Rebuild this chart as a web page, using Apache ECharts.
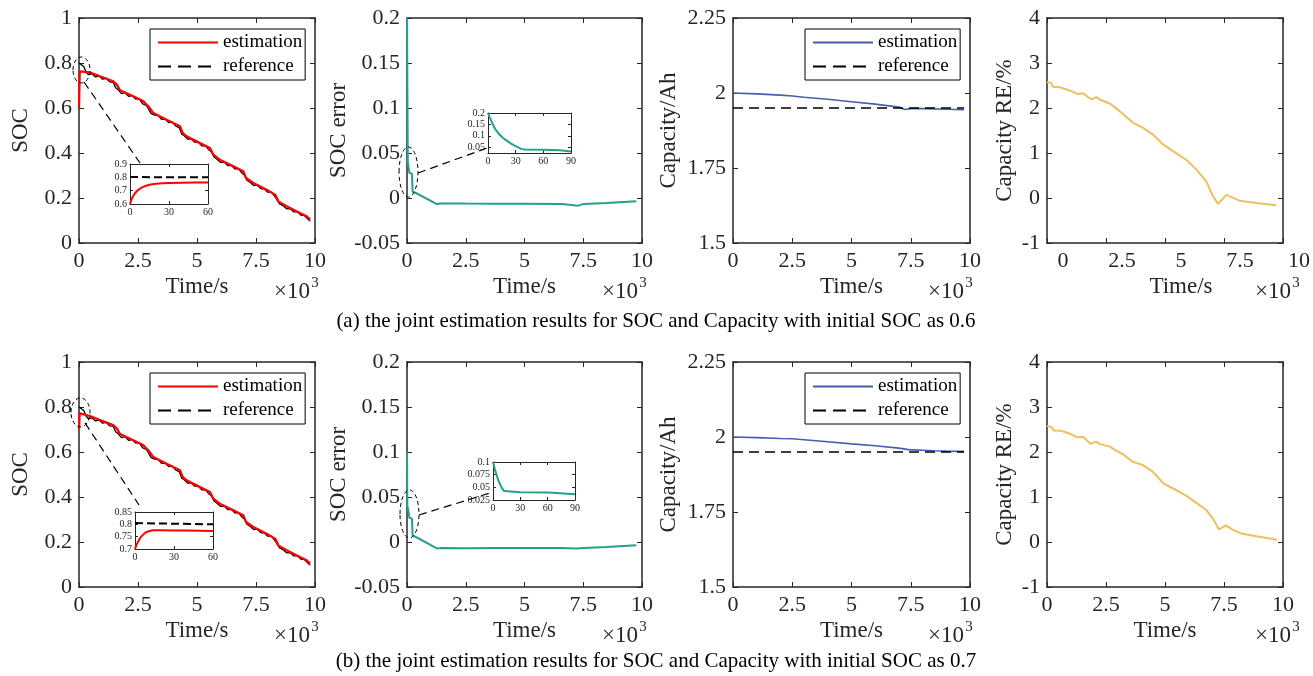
<!DOCTYPE html>
<html><head><meta charset="utf-8">
<script src="https://cdn.jsdelivr.net/npm/echarts@6/dist/echarts.min.js"></script>
<style>html,body{margin:0;padding:0;background:#fff}#c{width:1313px;height:676px}</style>
</head><body><div id="c"></div>
<script>
// ---------------- data (time in 10^3 s) ----------------
const socTime = [0, 0.03, 0.47, 0.89, 1.45, 1.60, 1.74, 2.30, 2.73, 2.94, 3.15, 3.71, 4.28, 4.39, 4.56, 5.13, 5.55, 5.69, 5.97, 6.54, 6.96, 7.08, 7.39, 7.95, 8.31, 8.45, 8.80, 9.36, 9.65, 9.79];
const socEstA = [0.60, 0.763, 0.758, 0.741, 0.719, 0.704, 0.679, 0.652, 0.630, 0.607, 0.578, 0.548, 0.519, 0.489, 0.474, 0.444, 0.422, 0.393, 0.370, 0.341, 0.319, 0.289, 0.267, 0.237, 0.215, 0.185, 0.163, 0.133, 0.119, 0.104];
const socEstB = [0.70, 0.772, 0.760, 0.742, 0.720, 0.705, 0.680, 0.652, 0.630, 0.607, 0.578, 0.548, 0.519, 0.489, 0.474, 0.444, 0.422, 0.393, 0.370, 0.341, 0.319, 0.289, 0.267, 0.237, 0.215, 0.185, 0.163, 0.133, 0.119, 0.104];
const refTime = [0.00, 0.10, 0.20, 0.30, 0.40, 0.55, 0.70, 0.85, 1.00, 1.15, 1.30, 1.45, 1.55, 1.65, 1.80, 1.95, 2.10, 2.25, 2.40, 2.55, 2.70, 2.85, 2.95, 3.05, 3.20, 3.35, 3.50, 3.65, 3.80, 3.95, 4.10, 4.25, 4.35, 4.45, 4.60, 4.75, 4.90, 5.05, 5.20, 5.35, 5.50, 5.62, 5.72, 5.85, 6.00, 6.15, 6.30, 6.45, 6.60, 6.75, 6.90, 7.02, 7.12, 7.25, 7.40, 7.55, 7.70, 7.85, 8.00, 8.15, 8.30, 8.40, 8.50, 8.65, 8.80, 8.95, 9.10, 9.25, 9.40, 9.55, 9.70, 9.80];
const refSoc = [0.800, 0.792, 0.784, 0.760, 0.748, 0.752, 0.738, 0.742, 0.728, 0.732, 0.716, 0.714, 0.690, 0.682, 0.664, 0.668, 0.652, 0.655, 0.640, 0.642, 0.618, 0.612, 0.596, 0.576, 0.568, 0.566, 0.550, 0.551, 0.535, 0.537, 0.520, 0.512, 0.484, 0.478, 0.462, 0.463, 0.448, 0.449, 0.432, 0.433, 0.414, 0.404, 0.382, 0.372, 0.358, 0.360, 0.344, 0.345, 0.330, 0.330, 0.312, 0.300, 0.278, 0.270, 0.256, 0.257, 0.242, 0.240, 0.226, 0.226, 0.206, 0.190, 0.174, 0.166, 0.152, 0.153, 0.138, 0.139, 0.124, 0.122, 0.106, 0.098];

const errTimeA = [0, 0.035, 0.06, 0.10, 0.21, 0.24, 0.30, 0.42, 1.27, 1.41, 2.5, 3.8, 5.0, 6.6, 7.28, 7.5, 8.5, 9.76];
const errA = [0.2, 0.040, 0.038, 0.028, 0.027, 0.007, 0.006, 0.005, -0.0067, -0.006, -0.0062, -0.0063, -0.0064, -0.0066, -0.0085, -0.0068, -0.0055, -0.0037];
const errTimeB = [0, 0.015, 0.05, 0.10, 0.21, 0.24, 0.30, 0.42, 1.27, 1.41, 2.5, 3.8, 5.0, 6.6, 7.2, 7.5, 8.5, 9.76];
const errB = [0.1, 0.040, 0.036, 0.027, 0.026, 0.007, 0.006, 0.005, -0.0072, -0.0068, -0.0070, -0.0068, -0.0066, -0.0068, -0.0072, -0.0066, -0.0055, -0.0037];

const capTimeA = [0, 1, 2, 2.5, 3, 4, 5, 6, 7, 7.25, 7.5, 8, 9, 9.75];
const capEstA = [2.000, 1.997, 1.993, 1.990, 1.986, 1.979, 1.971, 1.963, 1.953, 1.945, 1.948, 1.948, 1.946, 1.944];
const capTimeB = [0, 1, 2, 2.5, 3, 4, 5, 6, 7, 7.4, 8, 8.5, 9, 9.75];
const capEstB = [2.000, 1.998, 1.995, 1.994, 1.991, 1.984, 1.977, 1.971, 1.963, 1.958, 1.956, 1.954, 1.953, 1.952];
const capRefTime = [0, 9.75];
const capRef = [1.95, 1.95];

const reTimeA = [0, 0.18, 0.25, 0.54, 0.96, 1.31, 1.53, 1.67, 1.88, 2.09, 2.23, 2.66, 3.08, 3.65, 4.07, 4.49, 4.92, 5.34, 5.9, 6.33, 6.75, 7.03, 7.25, 7.6, 8.16, 8.87, 9.72];
const reA = [2.57, 2.56, 2.47, 2.46, 2.39, 2.31, 2.33, 2.27, 2.19, 2.24, 2.19, 2.10, 1.93, 1.67, 1.56, 1.41, 1.19, 1.04, 0.85, 0.63, 0.37, 0.04, -0.13, 0.07, -0.06, -0.11, -0.16];
const reTimeB = [0, 0.18, 0.28, 0.6, 0.96, 1.27, 1.53, 1.67, 1.84, 2.09, 2.23, 2.66, 3.0, 3.22, 3.64, 4.07, 4.49, 4.94, 5.48, 5.9, 6.33, 6.75, 7.03, 7.29, 7.46, 7.57, 7.88, 8.23, 8.87, 9.75];
const reB = [2.58, 2.56, 2.48, 2.47, 2.41, 2.33, 2.34, 2.27, 2.18, 2.23, 2.18, 2.12, 2.01, 1.95, 1.78, 1.71, 1.56, 1.30, 1.15, 1.03, 0.87, 0.71, 0.52, 0.28, 0.33, 0.37, 0.27, 0.19, 0.13, 0.05];

// insets (time in s)
const insetSocTimeA = [0, 1, 2, 4, 6, 8, 10, 13, 16, 20, 25, 30, 40, 50, 60];
const insetSocEstA = [0.6, 0.63, 0.652, 0.683, 0.703, 0.717, 0.728, 0.739, 0.746, 0.752, 0.756, 0.758, 0.760, 0.761, 0.761];
const insetSocTimeB = [0, 1, 2, 4, 6, 8, 10, 12, 14, 20, 30, 40, 50, 60];
const insetSocEstB = [0.7, 0.715, 0.726, 0.745, 0.757, 0.766, 0.771, 0.774, 0.776, 0.776, 0.775, 0.775, 0.774, 0.773];
const insetRefTime = [0, 60];
const insetRefA = [0.802, 0.800];
const insetRefB = [0.805, 0.800];
const insetErrTimeA = [0, 2, 5, 8, 12, 16, 20, 25, 30, 36, 40, 60, 78, 80, 90];
const insetErrA = [0.2, 0.18, 0.152, 0.128, 0.108, 0.092, 0.080, 0.066, 0.055, 0.043, 0.040, 0.039, 0.037, 0.033, 0.032];
const insetErrTimeB = [0, 2, 4, 6, 8, 10, 12, 14, 30, 61, 62, 90];
const insetErrB = [0.1, 0.086, 0.074, 0.063, 0.055, 0.048, 0.043, 0.041, 0.0405, 0.040, 0.037, 0.0365];

const captionA = '(a) the joint estimation results for SOC and Capacity with initial SOC as 0.6';
const captionB = '(b) the joint estimation results for SOC and Capacity with initial SOC as 0.7';
const xName = 'Time/s';
const yNames = ['SOC', 'SOC error', 'Capacity/Ah', 'Capacity RE/%'];
const legendNames = ['estimation', 'reference'];

// ---------------- styling / layout ----------------
const FONT = 'Liberation Serif';
const AX = '#262626';
const RED = '#ff0000', TEAL = '#26a08a', BLUE = '#4a5cb0', GOLD = '#ecc061';
const TICK_FS = 22, NAME_FS = 23;
const rowTop = [18, 362], rowH = 225;
const colLeft = [79, 407, 733, 1047], colW = [236, 235, 237, 236];
const yNameGap = [47, 53, 53, 31];

const zip = (a, b) => a.map((v, i) => [v, b[i]]);
const grids = [], xAxes = [], yAxes = [], series = [], legends = [], graphics = [];

function mkAxis(gi, pos, c, showLabel, st) {
  const ax = {
    type: 'value', gridIndex: gi, position: pos, min: c.min, max: c.max, interval: c.interval,
    axisLine: {show: true, onZero: false, lineStyle: {color: AX, width: st.lw}},
    axisTick: {show: true, inside: true, length: st.tl, lineStyle: {color: AX, width: 1}},
    axisLabel: {show: showLabel, color: AX, fontFamily: FONT, fontSize: st.fs, margin: st.margin},
    splitLine: {show: false}
  };
  if (c.custom) { ax.axisTick.customValues = c.custom; ax.axisLabel.customValues = c.custom; }
  return ax;
}
function addPanel(rect, xc, yc, st) {
  const gi = grids.length;
  grids.push({left: rect[0], top: rect[1], width: rect[2], height: rect[3], show: !!st.bg,
    backgroundColor: st.bg || 'transparent', borderWidth: 0});
  const xi = xAxes.length, yi = yAxes.length;
  const xb = mkAxis(gi, 'bottom', xc, st.xLabels !== false, st);
  if (st.xName) Object.assign(xb, {name: st.xName, nameLocation: 'middle', nameGap: 32,
    nameTextStyle: {fontFamily: FONT, fontSize: NAME_FS, color: AX}});
  xAxes.push(xb, mkAxis(gi, 'top', xc, false, st));
  const yl = mkAxis(gi, 'left', yc, true, st);
  if (st.yName) Object.assign(yl, {name: st.yName, nameLocation: 'middle', nameGap: st.yGap,
    nameTextStyle: {fontFamily: FONT, fontSize: NAME_FS, color: AX}});
  yAxes.push(yl, mkAxis(gi, 'right', yc, false, st));
  return {gi, xi, yi};
}
function addLine(p, name, t, v, color, width, type) {
  series.push({type: 'line', name, xAxisIndex: p.xi, yAxisIndex: p.yi, data: zip(t, v),
    symbol: 'none', showSymbol: false, silent: true, animation: false, z: 3,
    lineStyle: {color, width, type: type || 'solid'}, itemStyle: {color}});
}
const mainSt = {lw: 1.5, tl: 5, fs: TICK_FS, margin: 7};
const insetSt = {lw: 1, tl: 3, fs: 10, margin: 3, bg: '#fff'};
const timeAx = {min: 0, max: 10, interval: 2.5};
const yAx = [
  {min: 0, max: 1, interval: 0.2},
  {min: -0.05, max: 0.2, interval: 0.05},
  {min: 1.5, max: 2.25, interval: 0.25},
  {min: -1, max: 4, interval: 1}
];
const DASH = [10, 6];
const annotations = [];
const hiddenSymbol = {color: 'transparent', borderWidth: 0, opacity: 0};

['A', 'B'].forEach((row, r) => {
  const top = rowTop[r];
  const P = [];
  for (let c = 0; c < 4; c++) {
    const st = Object.assign({}, mainSt, {yName: yNames[c], yGap: yNameGap[c], xName: xName});
    if (r === 0 && c === 3) { st.xName = null; st.xLabels = false; }
    P.push(addPanel([colLeft[c], top, colW[c], rowH], timeAx, yAx[c], st));
  }
  addLine(P[0], 'reference|soc' + row, refTime, refSoc, '#000', 1.3);
  addLine(P[0], 'estimation|soc' + row, socTime, r === 0 ? socEstA : socEstB, RED, 2.3);
  addLine(P[1], 'err' + row, r === 0 ? errTimeA : errTimeB, r === 0 ? errA : errB, TEAL, 2);
  addLine(P[2], 'estimation|cap' + row, r === 0 ? capTimeA : capTimeB, r === 0 ? capEstA : capEstB, BLUE, 1.6);
  addLine(P[2], 'reference|cap' + row, capRefTime, capRef, '#000', 1.6, DASH);
  addLine(P[3], 're' + row, r === 0 ? reTimeA : reTimeB, r === 0 ? reA : reB, GOLD, 2);

  const lt = r === 0 ? 29 : 373;
  [[150, 'soc'], [805, 'cap']].forEach(([lx, key]) => {
    legends.push({
      left: lx, top: lt, orient: 'vertical', itemWidth: 60, itemHeight: 14, itemGap: 5,
      padding: [4, 3, 4, 7], borderColor: '#000', borderWidth: 1, backgroundColor: '#fff',
      textStyle: {fontFamily: FONT, fontSize: 19, color: '#000'}, selectedMode: false,
      formatter: n => n.split('|')[0],
      data: [
        {name: legendNames[0] + '|' + key + row, itemStyle: hiddenSymbol},
        {name: legendNames[1] + '|' + key + row, itemStyle: hiddenSymbol,
         lineStyle: {type: [13, 7], width: 2, color: '#000'}}
      ]
    });
  });

  const socIn = r === 0
    ? addPanel([130, 164, 78, 40], {min: 0, max: 60, interval: 30}, {min: 0.6, max: 0.9, interval: 0.1}, insetSt)
    : addPanel([135, 512, 78, 37], {min: 0, max: 60, interval: 30}, {min: 0.7, max: 0.85, interval: 0.05}, insetSt);
  addLine(socIn, 'insRef' + row, insetRefTime, r === 0 ? insetRefA : insetRefB, '#000', 2, [8, 4]);
  addLine(socIn, 'insEst' + row, r === 0 ? insetSocTimeA : insetSocTimeB, r === 0 ? insetSocEstA : insetSocEstB, RED, 2);
  const errIn = r === 0
    ? addPanel([488, 113, 83, 40], {min: 0, max: 90, interval: 30}, {min: 0.025, max: 0.2, interval: 0.025, custom: [0.05, 0.1, 0.15, 0.2]}, insetSt)
    : addPanel([493, 462, 82, 38], {min: 0, max: 90, interval: 30}, {min: 0.025, max: 0.1, interval: 0.025}, insetSt);
  addLine(errIn, 'insErr' + row, r === 0 ? insetErrTimeA : insetErrTimeB, r === 0 ? insetErrA : insetErrB, TEAL, 2);

  if (r === 0) {
    annotations.push({p: P[0], center: [0.106, 0.769], rx: 8.5, ry: 13, so: [2.5, 12], ip: socIn, corner: [0, 0.9], eo: [10, -1]});
    annotations.push({p: P[1], center: [0.064, 0.0289], rx: 9.5, ry: 25, so: [9.5, 1], ip: errIn, corner: [0, 0.025], eo: [2, -6]});
  } else {
    annotations.push({p: P[0], center: [0.064, 0.776], rx: 9.5, ry: 14.5, so: [4.5, 10.5], ip: socIn, corner: [0, 0.85], eo: [4, -7]});
    annotations.push({p: P[1], center: [0.106, 0.0311], rx: 9.5, ry: 24, so: [9.5, 1], ip: errIn, corner: [0, 0.025], eo: [-3, -7]});
  }
});

// shifted tick-label axis of the top-right panel (as in the original figure)
(function () {
  const gi = grids.length;
  grids.push({left: 1063, top: rowTop[0], width: 238, height: rowH, show: false});
  xAxes.push({type: 'value', gridIndex: gi, min: 0, max: 10, interval: 2.5, position: 'bottom',
    axisLine: {show: false}, axisTick: {show: false}, splitLine: {show: false},
    axisLabel: {show: true, color: AX, fontFamily: FONT, fontSize: TICK_FS, margin: 7},
    name: xName, nameLocation: 'middle', nameGap: 32, nameTextStyle: {fontFamily: FONT, fontSize: NAME_FS, color: AX}});
  yAxes.push({type: 'value', gridIndex: gi, min: 0, max: 1, show: false});
})();

// ×10^3 markers and captions
const expX = [[292, 315], [620, 643], [946, 969], [1273, 1296]];
[0, 1].forEach(r => {
  const base = rowTop[r] + rowH;
  expX.forEach(([x1, x2]) => {
    graphics.push({type: 'text', x: x1, y: base + 49, silent: true, z: 10,
      style: {text: '\u00d710', fontFamily: FONT, fontSize: 23, fill: AX, align: 'center', verticalAlign: 'middle'}});
    graphics.push({type: 'text', x: x2, y: base + 40, silent: true, z: 10,
      style: {text: '3', fontFamily: FONT, fontSize: 15, fill: AX, align: 'center', verticalAlign: 'middle'}});
  });
});
graphics.push({type: 'text', x: 656, y: 321, silent: true,
  style: {text: captionA, fontFamily: FONT, fontSize: 21, fill: '#000', align: 'center', verticalAlign: 'middle'}});
graphics.push({type: 'text', x: 656, y: 661, silent: true,
  style: {text: captionB, fontFamily: FONT, fontSize: 21, fill: '#000', align: 'center', verticalAlign: 'middle'}});

const chart = echarts.init(document.getElementById('c'), null, {renderer: 'canvas'});
chart.setOption({
  animation: false, backgroundColor: '#fff',
  grid: grids, xAxis: xAxes, yAxis: yAxes, series: series, legend: legends
});
annotations.forEach(a => {
  const c = chart.convertToPixel({xAxisIndex: a.p.xi, yAxisIndex: a.p.yi}, a.center);
  const k = chart.convertToPixel({xAxisIndex: a.ip.xi, yAxisIndex: a.ip.yi}, a.corner);
  graphics.push({type: 'ellipse', silent: true, z: 20, shape: {cx: c[0], cy: c[1], rx: a.rx, ry: a.ry},
    style: {fill: 'none', stroke: '#000', lineWidth: 1, lineDash: [4, 3]}});
  graphics.push({type: 'line', silent: true, z: 20,
    shape: {x1: c[0] + a.so[0], y1: c[1] + a.so[1], x2: k[0] + a.eo[0], y2: k[1] + a.eo[1]},
    style: {stroke: '#000', lineWidth: 1.2, lineDash: [8, 5]}});
});
chart.setOption({graphic: graphics});
</script>
</body></html>
